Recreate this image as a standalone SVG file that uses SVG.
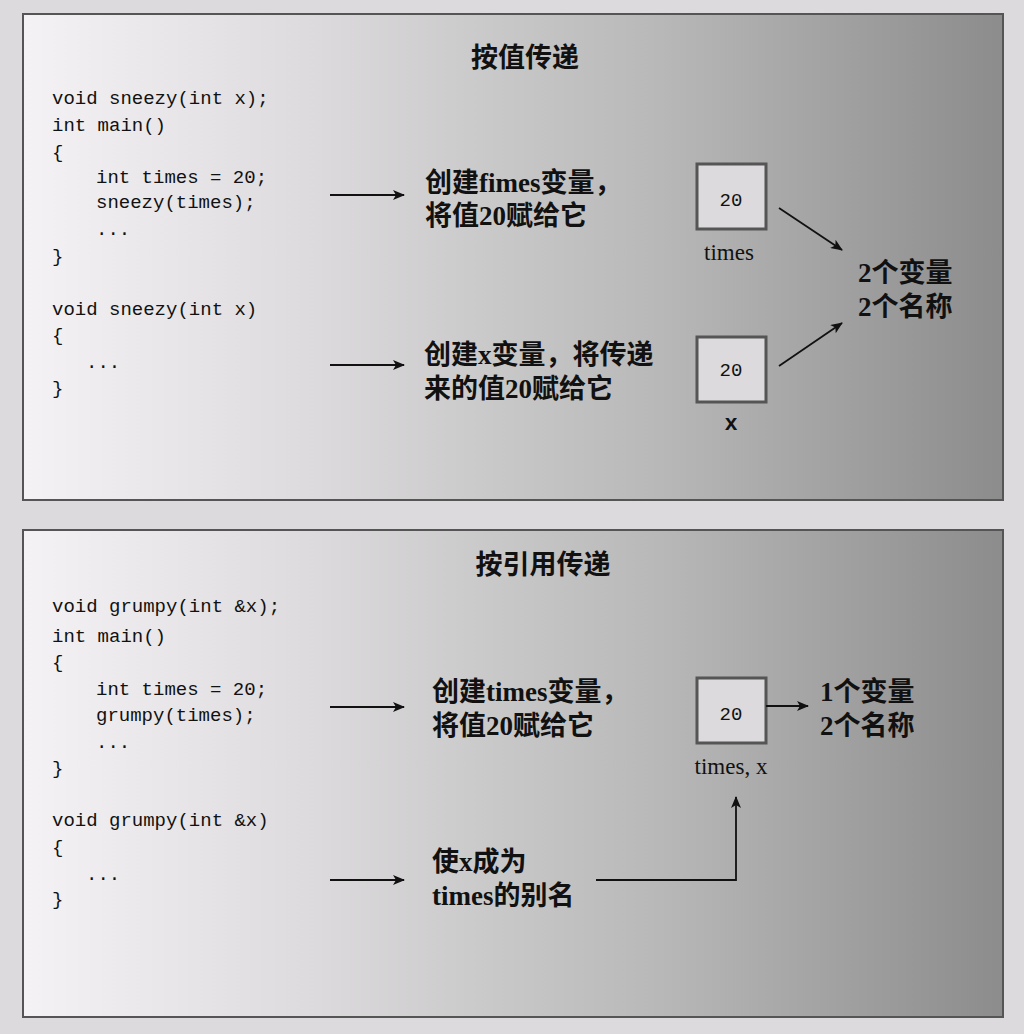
<svg xmlns="http://www.w3.org/2000/svg" width="1024" height="1034" viewBox="0 0 1024 1034">
<style>
.code{font-family:"Liberation Mono","DejaVu Sans Mono",monospace;font-size:19px;fill:#111}
.cn{font-family:"Liberation Serif","Noto Sans CJK SC",serif;font-size:27px;font-weight:bold;fill:#111}
.lbl{font-family:"Liberation Serif",serif;font-size:23px;fill:#111}
.box{fill:#dcdadc;stroke:#555;stroke-width:3}
.num{font-family:"Liberation Mono",monospace;font-size:19px;fill:#111;text-anchor:middle}
.ln{stroke:#111;stroke-width:1.8;fill:none}
</style>
<defs>
<linearGradient id="g" x1="0" x2="1" y1="0" y2="0">
<stop offset="0" stop-color="#f4f2f4"/><stop offset="0.3" stop-color="#dcdadc"/><stop offset="0.65" stop-color="#b8b8b8"/><stop offset="1" stop-color="#8c8c8c"/>
</linearGradient>
<marker id="a" viewBox="0 0 12 10" refX="11" refY="5" markerWidth="12" markerHeight="10" markerUnits="userSpaceOnUse" orient="auto"><path d="M0,0 L12,5 L0,10 L3,5Z" fill="#111"/></marker>
</defs>
<rect width="1024" height="1034" fill="#dcdadc"/>
<rect x="23" y="14" width="980" height="486" fill="url(#g)" stroke="#555" stroke-width="2"/>
<rect x="23" y="530" width="980" height="487" fill="url(#g)" stroke="#555" stroke-width="2"/>
<g id="title1"><text class="cn" x="525" y="67" text-anchor="middle">按值传递</text></g>
<g id="code1" class="code">
<text x="52" y="104">void sneezy(int x);</text>
<text x="52" y="131">int main()</text>
<text x="52" y="158">{</text>
<text x="96" y="183">int times = 20;</text>
<text x="96" y="208">sneezy(times);</text>
<text x="96" y="235">...</text>
<text x="52" y="262">}</text>
<text x="52" y="315">void sneezy(int x)</text>
<text x="52" y="341">{</text>
<text x="86" y="368">...</text>
<text x="52" y="394">}</text>
</g>
<g id="t1a"><text class="cn" x="425" y="192">创建fimes变量，</text><text class="cn" x="425" y="225">将值20赋给它</text></g>
<g id="t1b"><text class="cn" x="424" y="364">创建x变量，将传递</text><text class="cn" x="424" y="398">来的值20赋给它</text></g>
<g id="box1"><rect class="box" x="697" y="164" width="69" height="65"/><text class="num" x="731" y="206">20</text><text class="lbl" x="729" y="260" text-anchor="middle">times</text></g>
<g id="box2"><rect class="box" x="697" y="337" width="69" height="65"/><text class="num" x="731" y="376">20</text><text class="num" x="731" y="430" style="font-size:22px;font-weight:bold">x</text></g>
<g id="r1"><text class="cn" x="858" y="282">2个变量</text><text class="cn" x="858" y="316">2个名称</text></g>
<g id="title2"><text class="cn" x="543" y="574" text-anchor="middle">按引用传递</text></g>
<g id="code2" class="code">
<text x="52" y="612">void grumpy(int &amp;x);</text>
<text x="52" y="642">int main()</text>
<text x="52" y="668">{</text>
<text x="96" y="695">int times = 20;</text>
<text x="96" y="721">grumpy(times);</text>
<text x="96" y="748">...</text>
<text x="52" y="774">}</text>
<text x="52" y="826">void grumpy(int &amp;x)</text>
<text x="52" y="853">{</text>
<text x="86" y="880">...</text>
<text x="52" y="905">}</text>
</g>
<g id="t2a"><text class="cn" x="432" y="701">创建times变量，</text><text class="cn" x="432" y="735">将值20赋给它</text></g>
<g id="t2b"><text class="cn" x="432" y="871">使x成为</text><text class="cn" x="432" y="905">times的别名</text></g>
<g id="box3"><rect class="box" x="697" y="678" width="69" height="65"/><text class="num" x="731" y="720">20</text><text class="lbl" x="731" y="774" text-anchor="middle">times, x</text></g>
<g id="r2"><text class="cn" x="820" y="701">1个变量</text><text class="cn" x="820" y="735">2个名称</text></g>
<g id="connectors">
<line class="ln" x1="330" y1="195" x2="404" y2="195" marker-end="url(#a)"/>
<line class="ln" x1="330" y1="365" x2="404" y2="365" marker-end="url(#a)"/>
<line class="ln" x1="779" y1="208" x2="842" y2="250" marker-end="url(#a)"/>
<line class="ln" x1="779" y1="366" x2="842" y2="323" marker-end="url(#a)"/>
<line class="ln" x1="330" y1="707" x2="404" y2="707" marker-end="url(#a)"/>
<line class="ln" x1="330" y1="880" x2="404" y2="880" marker-end="url(#a)"/>
<line class="ln" x1="766" y1="706" x2="808" y2="706" marker-end="url(#a)"/>
<polyline class="ln" points="596,880 736,880 736,797" marker-end="url(#a)"/>
</g>
</svg>
